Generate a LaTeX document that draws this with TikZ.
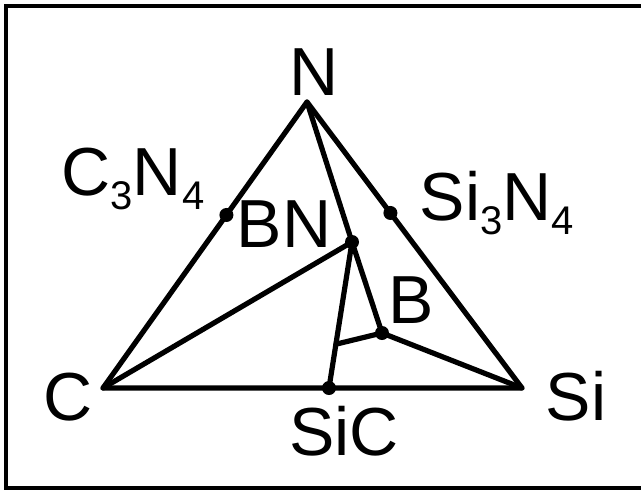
\documentclass[tikz,border=0pt]{standalone}
\usepackage{fontspec}
\setmainfont{Liberation Sans}
\usepackage{tikz}
\usetikzlibrary{calc}
\definecolor{ink}{HTML}{000000}

\newcommand{\sub}[1]{\raisebox{-14pt}{\fontsize{40}{40}\selectfont #1}}

\begin{document}
\begin{tikzpicture}[x=1pt,y=-1pt,
  edge/.style={draw=ink,line width=5.2pt,line join=round,line cap=round},
  lab/.style={anchor=base,inner sep=0pt,text=ink,font=\fontsize{68}{80}\selectfont},
  dot/.style={circle,fill=ink,inner sep=0pt,minimum size=14pt}]
\useasboundingbox (0,0) rectangle (641,491);
% --- frame (right side runs off the page) ----------------------------
\draw[ink,line width=4pt] (645,6) -- (6,6) -- (6,488) -- (645,488);
% --- corners of the ternary -------------------------------------------
\coordinate (N)  at (307,102);
\coordinate (C)  at (103,388);
\coordinate (Si) at (522,388);
\coordinate (C3N4)  at ($(N)!0.395!(C)$);
\coordinate (Si3N4) at ($(N)!0.388!(Si)$);
\coordinate (SiC)   at (329,388);
\coordinate (BN)    at (352,242);
\coordinate (B)     at (382,333);
\coordinate (J)     at ($(BN)!0.7!(SiC)$);
% --- tie lines ----------------------------------------------------------
\draw[edge] (N) -- (C) -- (Si) -- cycle;
\draw[edge] (N) -- (BN) -- (B) -- (Si);
\draw[edge] (C) -- (BN) -- (SiC);
\draw[edge] (J) -- (B);
\foreach \p in {C3N4, Si3N4, BN, B, SiC} {
  \node[dot] at (\p) {};
}
% --- labels -------------------------------------------------------------
\node[lab] (lN)     at (314,95)  {N};
\node[lab] (lC3N4)  at (133,195) {C\sub{3}N\sub{4}};
\node[lab] (lBN)    at (284,247) {BN};
\node[lab] (lSi3N4) at (497,220) {Si\sub{3}N\sub{4}};
\node[lab] (lB)     at (411,323) {B};
\node[lab] (lC)     at (68,420)  {C};
\node[lab] (lSiC)   at (344,455) {SiC};
\node[lab] (lSi)    at (576,420) {Si};
\end{tikzpicture}
\end{document}
